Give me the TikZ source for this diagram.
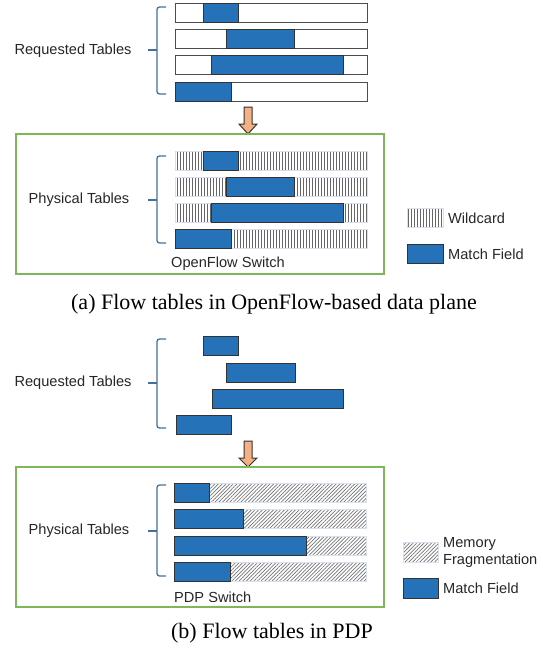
\documentclass[tikz,border=0pt]{standalone}
\usepackage{fontspec}
\setmainfont{Liberation Sans}
\newfontfamily\capfont{Liberation Serif}
\usetikzlibrary{patterns.meta}
\definecolor{mfblue}{HTML}{2672B8}
\definecolor{brblue}{HTML}{41719C}
\definecolor{boxgreen}{HTML}{7DB75A}
\definecolor{arrowor}{HTML}{F4B183}
\definecolor{rowedge}{HTML}{D6E0EE}
\definecolor{txtgray}{HTML}{262626}
\tikzset{
  tblrow/.style={rectangle, draw=black!70, line width=1.2pt, fill=white, minimum width=192pt, minimum height=19pt, anchor=north west, inner sep=0pt},
  wildrow/.style={rectangle, draw=rowedge, line width=0.6pt, pattern={Lines[angle=90,distance=3pt,line width=0.8pt]}, pattern color=black!60, minimum width=192pt, minimum height=19pt, anchor=north west, inner sep=0pt},
  fragrow/.style={rectangle, draw=rowedge, line width=0.6pt, pattern={Lines[angle=45,distance=2.6pt,line width=0.7pt]}, pattern color=black!55, minimum width=192pt, minimum height=19pt, anchor=north west, inner sep=0pt},
  match/.style={rectangle, fill=mfblue, draw=black!80, line width=1.2pt, minimum height=19pt, anchor=north west, inner sep=0pt},
  brace/.style={draw=brblue, line width=1.3pt, rounded corners=2.5pt},
  lbl/.style={text=txtgray, font=\fontsize{14.6}{17}\selectfont, inner sep=0pt},
  captxt/.style={text=black, font=\capfont\fontsize{22}{25}\selectfont, inner sep=0pt},
  swbox/.style={draw=boxgreen, line width=1.5pt},
  blockarrow/.style={fill=arrowor, draw=black!80, line width=1pt, line join=miter}
}
\begin{document}
\begin{tikzpicture}[x=1pt,y=-1pt]
\useasboundingbox (0,0) rectangle (542,651);
% ---------------- (a) ----------------
\node[tblrow] (r1) at (175,3) {};
\node[tblrow] (r2) at (175,29) {};
\node[tblrow] (r3) at (175,55) {};
\node[tblrow] (r4) at (175,82) {};
\node[match, minimum width=35pt] (rm1) at (203,3) {};
\node[match, minimum width=68pt] (rm2) at (226,29) {};
\node[match, minimum width=132pt] (rm3) at (211,55) {};
\node[match, minimum width=56pt] (rm4) at (175,82) {};
\draw[brace] (166,7) -- (157,7) -- (157,94) -- (166,94);
\draw[brace, rounded corners=0pt] (157,50) -- (148,50);
\node[lbl] (reqa) at (73,51) {Requested Tables};
\draw[blockarrow] (244,107) -- (252,107) -- (252,124) -- (257,124) -- (248,134) -- (239,124) -- (244,124) -- cycle;
\draw[swbox] (16,134) rectangle (384,274);
\node[wildrow] (p1) at (175,151) {};
\node[wildrow] (p2) at (175,177) {};
\node[wildrow] (p3) at (175,203) {};
\node[wildrow] (p4) at (175,229) {};
\node[match, minimum width=35pt] (pm1) at (203,151) {};
\node[match, minimum width=68pt] (pm2) at (226,177) {};
\node[match, minimum width=132pt] (pm3) at (211,203) {};
\node[match, minimum width=56pt] (pm4) at (175,229) {};
\draw[brace] (166,156) -- (157,156) -- (157,243) -- (166,243);
\draw[brace, rounded corners=0pt] (157,200) -- (148,200);
\node[lbl] (phya) at (79,200) {Physical Tables};
\node[lbl] (ofs) at (228,264) {OpenFlow Switch};
\node[wildrow, minimum width=36pt, minimum height=19pt] (lw) at (407,208) {};
\node[lbl, anchor=west] (lwt) at (448,218) {Wildcard};
\node[match, minimum width=36pt, minimum height=19pt] (lm) at (407,244) {};
\node[lbl, anchor=west] (lmt) at (448,254) {Match Field};
\node[captxt] (capa) at (274,304) {(a) Flow tables in OpenFlow-based data plane};
% ---------------- (b) ----------------
\node[match, minimum width=35pt] (bm1) at (203,336) {};
\node[match, minimum width=69pt] (bm2) at (226,363) {};
\node[match, minimum width=131pt] (bm3) at (212,389) {};
\node[match, minimum width=55pt] (bm4) at (176,415) {};
\draw[brace] (166,339) -- (157,339) -- (157,428) -- (166,428);
\draw[brace, rounded corners=0pt] (157,383) -- (148,383);
\node[lbl] (reqb) at (73,383) {Requested Tables};
\draw[blockarrow] (244,441) -- (252,441) -- (252,458) -- (257,458) -- (248,467) -- (239,458) -- (244,458) -- cycle;
\draw[swbox] (16,467) rectangle (384,607);
\node[fragrow] (q1) at (174,483) {};
\node[fragrow] (q2) at (174,509) {};
\node[fragrow] (q3) at (174,536) {};
\node[fragrow] (q4) at (174,562) {};
\node[match, minimum width=35pt] (qm1) at (174,483) {};
\node[match, minimum width=69pt] (qm2) at (174,509) {};
\node[match, minimum width=132pt] (qm3) at (174,536) {};
\node[match, minimum width=56pt] (qm4) at (174,562) {};
\draw[brace] (166,485) -- (157,485) -- (157,576) -- (166,576);
\draw[brace, rounded corners=0pt] (157,531) -- (148,531);
\node[lbl] (phyb) at (79,531) {Physical Tables};
\node[lbl, anchor=west] (pdp) at (174,597) {PDP Switch};
\node[fragrow, minimum width=35pt, minimum height=20pt] (lf) at (403,542) {};
\node[lbl, anchor=west, align=left] (lft) at (443,552) {Memory\\Fragmentation};
\node[match, minimum width=35pt, minimum height=20pt] (lm2) at (403,578) {};
\node[lbl, anchor=west] (lm2t) at (443,588) {Match Field};
\node[captxt] (capb) at (272,633) {(b) Flow tables in PDP};
\end{tikzpicture}
\end{document}
